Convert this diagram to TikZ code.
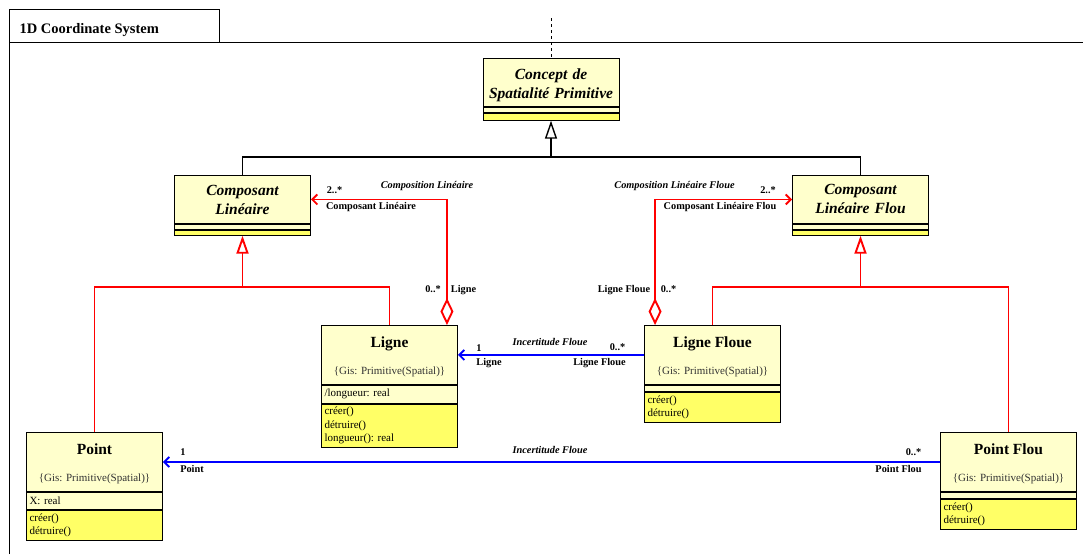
\documentclass[tikz,border=0pt]{standalone}
\usepackage{fontspec}
\setmainfont{Liberation Serif}
\usetikzlibrary{positioning,arrows.meta}

\definecolor{paleyellow}{RGB}{255,255,204}
\definecolor{opsyellow}{RGB}{255,255,102}

\begin{document}
\frenchspacing
\begin{tikzpicture}[x=1pt,y=-1pt,
  comp/.style={draw,line width=0.9pt,inner xsep=3pt,inner ysep=0pt,text width=130pt,align=left,
    font=\fontsize{11}{13.5}\selectfont},
  head/.style={comp,fill=paleyellow,align=center,minimum height=59pt},
  abshead/.style={comp,fill=paleyellow,align=center,minimum height=48pt,
    font=\fontsize{15.5}{19}\selectfont\bfseries\itshape},
  attr/.style={comp,fill=paleyellow},
  ops/.style={comp,fill=opsyellow},
  lbl/.style={font=\fontsize{10.3}{12}\selectfont\bfseries,inner sep=0pt,text height=7pt,text depth=2pt},
  gen/.style={line width=1.4pt},
  genR/.style={red,line width=1.9pt},
  aggr/.style={red,line width=1.9pt,{Diamond[open,length=27pt,width=13pt]}-{Straight Barb[length=5pt,width=10pt]}},
  assoc/.style={blue,line width=1.9pt,-{Straight Barb[length=5pt,width=10pt]}}]

\useasboundingbox (0,0) rectangle (1083,554);

% package frame with its tab
\draw[line width=1pt] (9,554) -- (9,9) -- (219,9) -- (219,42);
\draw[line width=1pt] (9,42) -- (1083,42);
\node[anchor=west,font=\fontsize{14.5}{16}\selectfont\bfseries] (pkg) at (16,30.5) {1D Coordinate System};

% abstract classes
\node[abshead,anchor=north] (concept) at (551,58) {\rule{0pt}{16.5pt}Concept de\\Spatialité Primitive};
\node[attr,below=0pt of concept,minimum height=5pt] (conceptAt) {};
\node[ops,below=0pt of conceptAt,minimum height=7pt] (conceptOp) {};

\node[abshead,anchor=north] (compL) at (242.5,175) {Composant\\Linéaire};
\node[attr,below=0pt of compL,minimum height=5pt] (compLAt) {};
\node[ops,below=0pt of compLAt,minimum height=5pt] (compLOp) {};

\node[abshead,anchor=north] (compF) at (860.5,175) {Composant\\Linéaire Flou};
\node[attr,below=0pt of compF,minimum height=5pt] (compFAt) {};
\node[ops,below=0pt of compFAt,minimum height=5pt] (compFOp) {};

% concrete classes
\node[head,anchor=north] (ligne) at (389.5,325)
  {\rule{0pt}{15pt}{\fontsize{15.5}{19}\selectfont\bfseries Ligne}\\[13.5pt]{\color{black!80}\{Gis: Primitive(Spatial)\}}};
\node[attr,below=0pt of ligne,minimum height=18pt] (ligneAt) {/longueur: real};
\node[ops,below=0pt of ligneAt,minimum height=43pt] (ligneOp) {créer()\\détruire()\\longueur(): real};

\node[head,anchor=north] (ligneF) at (712.5,325)
  {\rule{0pt}{15pt}{\fontsize{15.5}{19}\selectfont\bfseries Ligne Floue}\\[13.5pt]{\color{black!80}\{Gis: Primitive(Spatial)\}}};
\node[attr,below=0pt of ligneF,minimum height=6pt] (ligneFAt) {};
\node[ops,below=0pt of ligneFAt,minimum height=30pt] (ligneFOp) {créer()\\détruire()};

\node[head,anchor=north] (point) at (94.5,432)
  {\rule{0pt}{15pt}{\fontsize{15.5}{19}\selectfont\bfseries Point}\\[13.5pt]{\color{black!80}\{Gis: Primitive(Spatial)\}}};
\node[attr,below=0pt of point,minimum height=17pt] (pointAt) {X: real};
\node[ops,below=0pt of pointAt,minimum height=30pt] (pointOp) {créer()\\détruire()};

\node[head,anchor=north] (pointF) at (1008.5,432)
  {\rule{0pt}{15pt}{\fontsize{15.5}{19}\selectfont\bfseries Point Flou}\\[13.5pt]{\color{black!80}\{Gis: Primitive(Spatial)\}}};
\node[attr,below=0pt of pointF,minimum height=6pt] (pointFAt) {};
\node[ops,below=0pt of pointFAt,minimum height=30pt] (pointFOp) {créer()\\détruire()};

% dependency going out of the package
\coordinate (dep) at (551,18);
\draw[dashed,line width=0.9pt] (dep) -- (concept.north);

% generalisations
\coordinate (busC) at (551,157);
\draw[gen] (compL.north) |- (busC) -| (compF.north);
\draw[gen,-{Triangle[open,length=18pt,width=12pt]}] (busC) -- (conceptOp.south);

\coordinate (busL) at (242.5,287);
\draw[genR] (point.north) |- (busL) -| (ligne.north);
\draw[genR,-{Triangle[open,length=18pt,width=12pt]}] (busL) -- (compLOp.south);

\coordinate (busF) at (860.5,287);
\draw[genR] (ligneF.north) |- (busF) -| (pointF.north);
\draw[genR,-{Triangle[open,length=18pt,width=12pt]}] (busF) -- (compFOp.south);

% aggregations
\draw[aggr] ([xshift=-11pt]ligne.north east) |- (compL.east);
\draw[aggr] ([xshift=11pt]ligneF.north west) |- (compF.west);

% associations
\draw[assoc] (ligneF.west) -- (ligne.east);
\draw[assoc] (pointF.west) -- (point.east);

% labels
\node[lbl] (cmpL) at (427,185.5) {\itshape Composition Linéaire};
\node[lbl] (mulL2) at (334.5,191) {2..*};
\node[lbl] (roleL) at (371,207) {Composant Linéaire};
\node[lbl] (mulL0) at (433,290) {0..*};
\node[lbl] (roleLg) at (463.5,290) {Ligne};

\node[lbl] (cmpF) at (674.5,185.5) {\itshape Composition Linéaire Floue};
\node[lbl] (mulF2) at (768,191) {2..*};
\node[lbl] (roleF) at (720,207) {Composant Linéaire Flou};
\node[lbl] (roleLgF) at (624,290) {Ligne Floue};
\node[lbl] (mulF0) at (668.5,290) {0..*};

\node[lbl] (incL) at (550,343) {\itshape Incertitude Floue};
\node[lbl] (mulLg1) at (479,349) {1};
\node[lbl] (roleLg1) at (489,363) {Ligne};
\node[lbl] (mulLgF) at (617.5,348) {0..*};
\node[lbl] (roleLgF2) at (599.5,363) {Ligne Floue};

\node[lbl] (incP) at (550,451) {\itshape Incertitude Floue};
\node[lbl] (mulP1) at (183,453) {1};
\node[lbl] (roleP) at (192,470) {Point};
\node[lbl] (mulPF) at (913.5,453) {0..*};
\node[lbl] (rolePF) at (898.5,470) {Point Flou};

\end{tikzpicture}
\end{document}
